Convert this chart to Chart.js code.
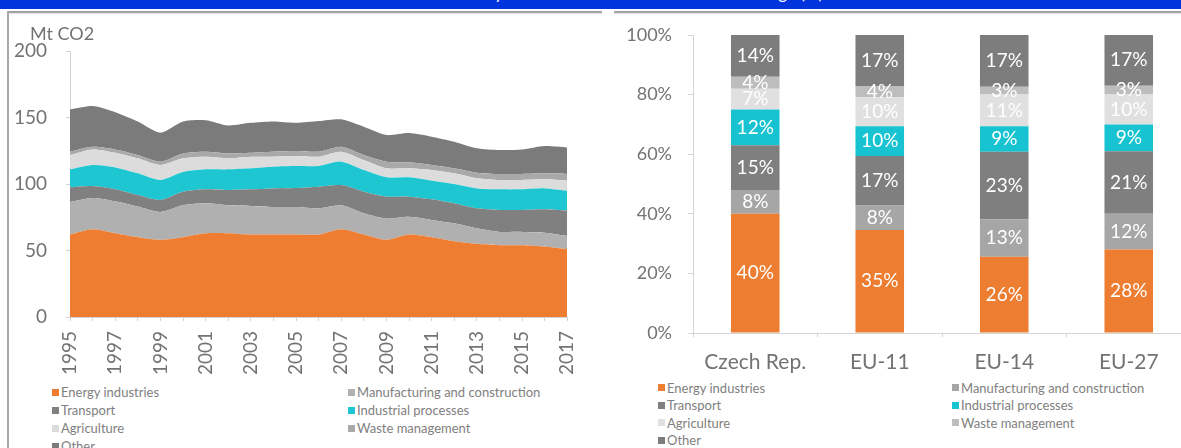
<!DOCTYPE html>
<html>
<head>
<meta charset="utf-8">
<script src="https://cdn.jsdelivr.net/npm/chart.js@4.4.1/dist/chart.umd.min.js"></script>
<style>
  html, body { margin: 0; padding: 0; width: 1181px; height: 448px; overflow: hidden; background: #fff; font-family: Lato, "Open Sans", sans-serif; }
  #header { position: absolute; left: 0; top: 0; width: 1181px; height: 9px; background: #0234de; overflow: hidden; }
  #header span { position: absolute; right: 358px; top: -18px; color: #fff; font-size: 17px; white-space: nowrap; }
  .rule { position: absolute; top: 11px; height: 2px; background: #a3a3a3; border-bottom: 1px solid #e4e4e4; }
  #leftEdge { position: absolute; left: 7px; top: 11px; width: 2px; height: 437px; background: #a8a8a8; }
  #leftWrap { position: absolute; left: 0; top: 0; width: 600px; height: 377px; }
  #rightWrap { position: absolute; left: 608px; top: 0; width: 590px; height: 378px; }
  #unit { position: absolute; left: 30px; top: 22px; font-size: 18px; color: #737373; }
  .legend { position: absolute; display: grid; font-size: 13px; color: #808080; }
  .legend div { white-space: nowrap; display: flex; align-items: center; }
  .legend i { display: inline-block; width: 7px; height: 7px; margin-right: 2px; }
</style>
</head>
<body>
<div id="header"><span>GHG emissions by sector and sector shares vs EU average (%)</span></div>
<div class="rule" style="left:7px;width:595px"></div>
<div class="rule" style="left:614px;width:567px"></div>
<div id="leftEdge"></div>
<div id="leftWrap"><canvas id="areaChart" width="600" height="377"></canvas></div>
<div id="unit">Mt CO2</div>
<div id="rightWrap"><canvas id="barChart" width="590" height="378"></canvas></div>
<div id="leftLegend" class="legend" style="left:52px;top:383px;grid-template-columns:296px 296px;grid-auto-rows:18px"></div>
<div id="rightLegend" class="legend" style="left:658px;top:379px;grid-template-columns:294px 294px;grid-auto-rows:17.5px"></div>
<script>
// ---- data: emissions by sector, Mt CO2 ----
const years = ['1995', '1996', '1997', '1998', '1999', '2000', '2001', '2002', '2003', '2004', '2005', '2006',
  '2007', '2008', '2009', '2010', '2011', '2012', '2013', '2014', '2015', '2016', '2017'];
const energyMt = [62, 66, 63, 60, 58, 60, 63, 63, 62, 62, 62, 62, 66, 62, 58, 62, 60, 57, 55, 54, 54, 53, 51];
const manufacturingMt = [24.5, 23.5, 24, 23, 21, 24, 22.5, 21, 21.5, 20.7, 20.7, 19.7, 18, 16, 16, 13.4, 13, 13.4, 11.7, 10, 10, 10.4, 10];
const transportMt = [11, 9, 9, 8.7, 9, 10.2, 10.5, 11.5, 12.5, 14, 14.3, 16.3, 15.2, 16.2, 16.5, 15.1, 15.5, 15.1, 15, 16.5, 16.5, 17.6, 19];
const industrialMt = [13.5, 15.8, 16.5, 16.3, 15, 14.8, 15, 15.5, 15.8, 16.3, 16.5, 15.5, 17.6, 16.3, 14.5, 14.5, 14, 14.5, 15, 15.5, 15.5, 15.7, 15];
const agricultureMt = [10.8, 11.7, 11, 11.3, 11.3, 10.3, 9.5, 8.3, 8.7, 7.5, 7.5, 7, 7.5, 7.5, 6.8, 6.8, 8, 8, 7.6, 7, 7, 6.8, 7.5];
const wasteMt = [2.5, 2, 2.5, 2.5, 2.5, 3.7, 3.8, 3.7, 3, 3.8, 3.8, 3.8, 3.7, 3.8, 5, 4.5, 3.8, 3.8, 4.2, 4.5, 4.5, 4.5, 5];
const otherMt = [31.7, 30.6, 28, 25.2, 21.8, 24, 23.7, 21, 22.5, 22.7, 21.2, 23, 20.6, 21.2, 20, 22, 21.3, 20, 18.3, 18, 18.5, 20.6, 20];

// ---- data: sector shares 2017, % ----
const regions = ['Czech Rep.', 'EU-11', 'EU-14', 'EU-27'];
const energyShare = [40, 34.6, 25.6, 28];
const manufacturingShare = [8, 8.2, 12.6, 12];
const transportShare = [15, 16.6, 22.6, 21];
const industrialShare = [12, 10.0, 8.6, 9];
const agricultureShare = [7, 9.7, 10.6, 10];
const wasteShare = [4, 3.6, 2.6, 3];
const otherShare = [14, 17.3, 17.4, 17];

const sectorNames = ['Energy industries', 'Manufacturing and construction', 'Transport', 'Industrial processes',
  'Agriculture', 'Waste management', 'Other'];

const areaColors = ['#ee7d31', '#b0b0b0', '#808080', '#1ec6d2', '#dcdcdc', '#a9a9a9', '#7b7b7b'];
const barColors = ['#ed7d31', '#a6a6a6', '#7f7f7f', '#17c3d0', '#e0e0e0', '#bdbdbd', '#7d7d7d'];

const axisGray = '#d4d4d4';
const textGray = '#737373';

// Stacked area chart
const areaSeries = [energyMt, manufacturingMt, transportMt, industrialMt, agricultureMt, wasteMt, otherMt];
new Chart(document.getElementById('areaChart'), {
  type: 'line',
  data: {
    labels: years,
    datasets: areaSeries.map((d, i) => ({
      label: sectorNames[i],
      data: d,
      backgroundColor: areaColors[i],
      borderWidth: 0,
      pointRadius: 0,
      tension: 0.25,
      fill: i === 0 ? 'origin' : '-1'
    }))
  },
  options: {
    responsive: false,
    animation: false,
    layout: { padding: { top: 51, right: 27, left: 0, bottom: 0 } },
    plugins: { legend: { display: false }, tooltip: { enabled: false } },
    scales: {
      x: {
        offset: false,
        grid: { drawOnChartArea: false, tickLength: 4, color: axisGray },
        border: { color: axisGray },
        ticks: {
          autoSkip: false, maxRotation: 90, minRotation: 90, padding: 10,
          color: textGray, font: { family: 'Lato', size: 19 },
          callback: (v, i) => i % 2 === 0 ? years[i] : ''
        },
        afterFit: s => { s.height = 60; }
      },
      y: {
        stacked: true, min: 0, max: 200,
        grid: { drawOnChartArea: false, tickLength: 4, color: axisGray },
        border: { color: axisGray },
        ticks: { stepSize: 50, padding: 19, color: textGray, font: { family: 'Lato', size: 19 } },
        afterFit: s => { s.width = 70; }
      }
    }
  }
});

// labels drawn in the middle of each bar segment
const barLabels = {
  id: 'barLabels',
  afterDatasetsDraw(chart) {
    const ctx = chart.ctx;
    ctx.save();
    ctx.font = '19px Lato';
    ctx.fillStyle = '#fff';
    ctx.textAlign = 'center';
    ctx.textBaseline = 'middle';
    chart.data.datasets.forEach((ds, i) => {
      chart.getDatasetMeta(i).data.forEach((bar, j) => {
        ctx.fillText(Math.round(ds.data[j]) + '%', bar.x, (bar.y + bar.base) / 2);
      });
    });
    ctx.restore();
  }
};

const shareSeries = [energyShare, manufacturingShare, transportShare, industrialShare, agricultureShare, wasteShare, otherShare];
new Chart(document.getElementById('barChart'), {
  type: 'bar',
  data: {
    labels: regions,
    datasets: shareSeries.map((d, i) => ({
      label: sectorNames[i],
      data: d,
      backgroundColor: barColors[i],
      borderWidth: 0,
      barPercentage: 0.39,
      categoryPercentage: 1
    }))
  },
  options: {
    responsive: false,
    animation: false,
    layout: { padding: { top: 35, right: 7, left: 0, bottom: 0 } },
    plugins: { legend: { display: false }, tooltip: { enabled: false } },
    scales: {
      x: {
        stacked: true,
        grid: { drawOnChartArea: false, tickLength: 4, color: axisGray },
        border: { color: axisGray },
        ticks: { padding: 13, color: textGray, font: { family: 'Lato', size: 21 } },
        afterFit: s => { s.height = 45; }
      },
      y: {
        stacked: true, min: 0, max: 100,
        grid: { drawOnChartArea: false, tickLength: 5, color: axisGray },
        border: { color: axisGray },
        ticks: { stepSize: 20, padding: 16, color: textGray, font: { family: 'Lato', size: 18 }, callback: v => v + '%' },
        afterFit: s => { s.width = 85; }
      }
    }
  },
  plugins: [barLabels]
});

// legends (two columns, row by row like the original)
function buildLegend(id, colors) {
  const box = document.getElementById(id);
  sectorNames.forEach((name, i) => {
    const item = document.createElement('div');
    item.innerHTML = '<i style="background:' + colors[i] + '"></i>' + name;
    box.appendChild(item);
  });
}
buildLegend('leftLegend', areaColors);
buildLegend('rightLegend', barColors);
</script>
</body>
</html>
